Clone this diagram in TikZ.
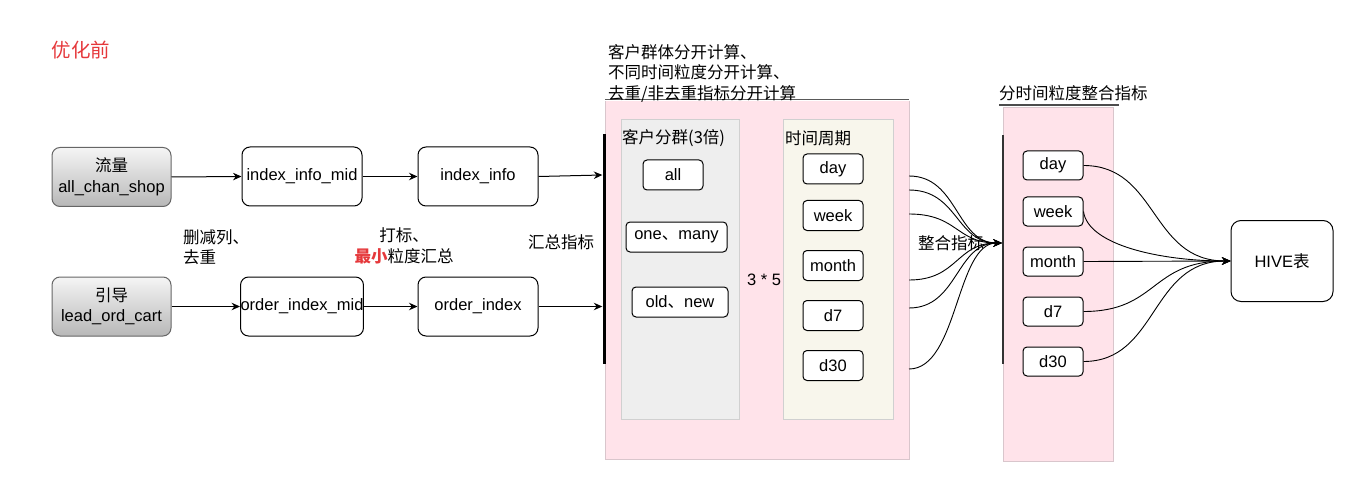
\documentclass[tikz,border=0pt]{standalone}
\usepackage{fontspec}
\setmainfont{Liberation Sans}
\newfontfamily\cjk{Noto Sans CJK SC}
\usetikzlibrary{arrows.meta}
\definecolor{redtxt}{HTML}{E5383B}
\definecolor{pinkfill}{HTML}{FFE3EA}
\definecolor{pinkedge}{HTML}{D9C6CC}
\definecolor{grayfill}{HTML}{EEEEEE}
\definecolor{beigefill}{HTML}{F8F6EC}
\definecolor{paneledge}{HTML}{D0D0D0}
\tikzset{
  txt/.style={font=\fontsize{16.5}{20.5}\selectfont, inner sep=0pt},
  srcbox/.style={draw=black!60, line width=1pt, rounded corners=8pt, top color=black!4, bottom color=black!28,
    minimum width=119pt, minimum height=59pt, align=center, txt},
  bigbox/.style={draw=black, line width=1pt, rounded corners=8pt, fill=white, minimum width=120pt, minimum height=59pt, txt},
  smallbox/.style={draw=black, line width=1pt, rounded corners=4pt, fill=white, minimum height=30pt, txt},
  tip/.style={-{Stealth[length=8.5pt,width=7.5pt]}},
  arr/.style={tip, line width=1pt},
  crv/.style={line width=0.9pt},
  barnode/.style={fill=black, inner sep=0pt, minimum width=3pt}
}
\begin{document}
\begin{tikzpicture}[x=1pt,y=-1pt]
\useasboundingbox (0,0) rectangle (1354,481);
% title
\node[txt, font=\fontsize{19.5}{22}\selectfont\cjk, text=redtxt] (title) at (81,50) {优化前};

% panels
\fill[pinkfill] (605,101) rectangle (909,459);
\draw[pinkedge, line width=0.8pt] (605,101) -- (605,459) -- (909,459) -- (909,101);
\draw[black!65, line width=1pt] (605,100) -- (909,100);
\node[txt, anchor=west, align=left] (ptitle) at (608,73) {\cjk 客户群体分开计算、\\ \cjk 不同时间粒度分开计算、\\ \cjk 去重/非去重指标分开计算};

\fill[grayfill] (621,119) rectangle (739,419);
\draw[paneledge, line width=0.8pt] (621,119) rectangle (739,419);
\node[txt, anchor=west] (custlbl) at (622,138) {\cjk 客户分群(3倍)};
\fill[beigefill] (783,119) rectangle (893,419);
\draw[paneledge, line width=0.8pt] (783,119) rectangle (893,419);
\node[txt, anchor=west] (timelbl) at (785,138) {\cjk 时间周期};

\fill[pinkfill] (1003,107) rectangle (1113,461);
\draw[pinkedge, line width=0.8pt] (1003,107) rectangle (1113,461);
\draw[black!70, line width=1.2pt] (999,105) -- (1119,105);
\node[txt, anchor=west] (p2title) at (999,93) {\cjk 分时间粒度整合指标};

% source boxes
\node[srcbox] (src1) at (111.5,177) {{\cjk 流量}\\all\_chan\_shop};
\node[srcbox] (src2) at (111.5,306.5) {{\cjk 引导}\\lead\_ord\_cart};

\node[bigbox] (mid1) at (302,176.5) {index\_info\_mid};
\node[bigbox] (info1) at (478,176.5) {index\_info};
\node[bigbox] (mid2) at (302,306.5) {order\_index\_mid};
\node[bigbox] (info2) at (478,306.5) {order\_index};

\node[barnode, minimum height=230pt] (bar1) at (604,249) {};
\node[fill=black!80, inner sep=0pt, minimum width=2pt, minimum height=229pt] (bar2) at (1003,249.5) {};

\draw[arr] (src1.east) -- (mid1.west);
\draw[arr] (mid1.east) -- (info1.west);
\draw[arr] (info1.east) -- (bar1.west |- 0,175);
\draw[arr] (src2.east) -- (mid2.west);
\draw[arr] (mid2.east) -- (info2.west);
\draw[arr] (info2.east) -- (bar1.west |- info2.east);

% labels
\node[txt, anchor=west, align=left] (l1) at (183,247) {\cjk 删减列、\\ \cjk 去重};
\node[txt, align=center] (l2) at (404,246) {\cjk 打标、\\ {\cjk\bfseries\color{redtxt}最小}{\cjk 粒度汇总}};
\node[txt] (l3) at (561,242) {\cjk 汇总指标};

% customer groups
\node[smallbox, minimum width=60pt] (all) at (673,175) {all};
\node[smallbox, minimum width=101pt] (onemany) at (676.5,237) {one{\cjk 、}many};
\node[smallbox, minimum width=96pt] (oldnew) at (680,302) {old{\cjk 、}new};
\node[txt] (times) at (764,280) {3 * 5};

% time periods
\node[smallbox, minimum width=60pt] (t1) at (833,169) {day};
\node[smallbox, minimum width=60pt] (t2) at (833,215.5) {week};
\node[smallbox, minimum width=60pt] (t3) at (833,265.5) {month};
\node[smallbox, minimum width=60pt] (t4) at (833,315.5) {d7};
\node[smallbox, minimum width=60pt] (t5) at (833,365.5) {d30};

% merge curves
\coordinate (c1) at (909,176);
\coordinate (c2) at (909,190);
\coordinate (c3) at (909,214);
\coordinate (c4) at (909,280);
\coordinate (c5) at (909,308);
\coordinate (c6) at (909,369);
\coordinate (m) at (bar2.west |- 0,243);
\node[txt] (merge) at (951,243) {\cjk 整合指标};
\foreach \c in {c1,c2,c3,c4,c5,c6}{
  \draw[crv, tip] (\c) .. controls (958,0 |- \c) and (956,243) .. (m);
}

% second period boxes
\node[smallbox, minimum width=60pt, minimum height=29pt] (s1) at (1053,165.5) {day};
\node[smallbox, minimum width=60pt, minimum height=29pt] (s2) at (1053,211.5) {week};
\node[smallbox, minimum width=60pt, minimum height=29pt] (s3) at (1053,261.5) {month};
\node[smallbox, minimum width=60pt, minimum height=29pt] (s4) at (1053,311.5) {d7};
\node[smallbox, minimum width=60pt, minimum height=29pt] (s5) at (1053,361.5) {d30};

\node[draw=black, line width=1pt, rounded corners=10pt, fill=white, minimum width=102pt, minimum height=81pt, txt] (hive) at (1282,261) {HIVE{\cjk 表}};

\draw[crv, tip] (s1.east) .. controls (1158,165.5) and (1150,261) .. (hive.west);
\draw[crv, tip] (s2.east) .. controls (1088,245) and (1160,261) .. (hive.west);
\draw[crv, tip] (s3.east) -- (hive.west);
\draw[crv, tip] (s4.east) .. controls (1158,311.5) and (1150,261) .. (hive.west);
\draw[crv, tip] (s5.east) .. controls (1158,361.5) and (1150,261) .. (hive.west);
\end{tikzpicture}
\end{document}
